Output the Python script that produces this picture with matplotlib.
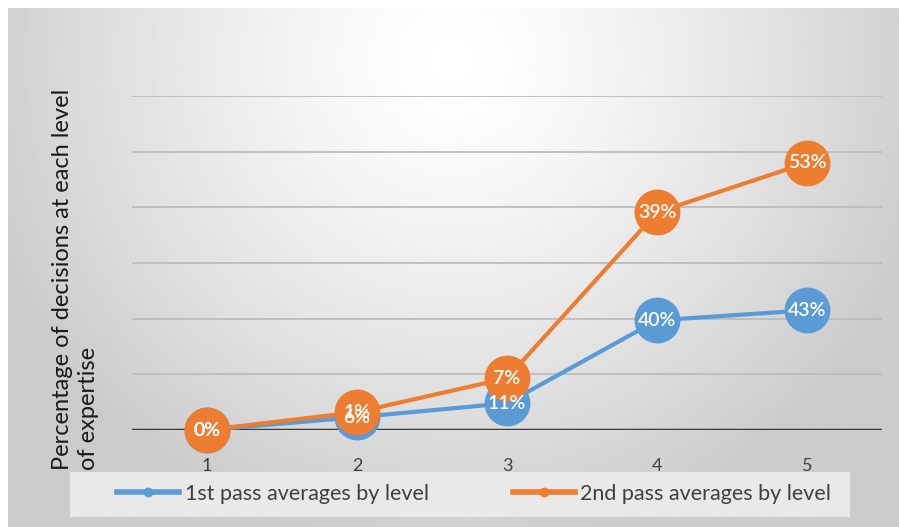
import numpy as np
import matplotlib
matplotlib.use("Agg")
import matplotlib.pyplot as plt
from matplotlib.patches import Rectangle
from matplotlib.lines import Line2D

plt.rcParams['font.family'] = ['Lato', 'DejaVu Sans']

# data
levels = [1, 2, 3, 4, 5]
first_pass = [0, 2.3, 4.8, 19.7, 21.5]
second_pass = [0, 3.2, 9.3, 39.1, 48.0]
first_labels = ["0%", "6%", "11%", "40%", "43%"]
second_labels = ["0%", "1%", "7%", "39%", "53%"]
series_names = ["1st pass averages by level", "2nd pass averages by level"]

blue = "#5B9BD5"
orange = "#ED7D31"

W, H = 899, 527
fig = plt.figure(figsize=(W / 100, H / 100), dpi=100, facecolor="white")

# gray radial background of the chart area
bg = fig.add_axes([8 / W, 0, 1 - 8 / W, 1 - 8 / H], zorder=0)
yy, xx = np.mgrid[0:1:300j, 0:1:500j]
r = np.sqrt(((xx - 0.5) / 0.55) ** 2 + ((yy - 0.1) / 0.95) ** 2)
shade = np.clip(1.0 - 0.2 * r ** 1.3, 0.8, 1.0)
bg.imshow(shade, cmap="gray", vmin=0, vmax=1, aspect="auto", extent=[0, 1, 1, 0])
bg.set_axis_off()

# legend background strip
fig.patches.append(Rectangle((70 / W, 1 - 517 / H), 780 / W, 45 / H,
                             transform=fig.transFigure, facecolor="#e9e9e9",
                             edgecolor="none", zorder=1))

ax = fig.add_axes([132 / W, 1 - 430 / H, 750 / W, 334 / H], zorder=2)
ax.patch.set_alpha(0)
ax.set_xlim(0.5, 5.5)
ax.set_ylim(0, 60)
ax.set_yticks([0, 10, 20, 30, 40, 50, 60])
ax.grid(axis="y", color="#bcbcbc", linewidth=1.3)
ax.set_axisbelow(True)
ax.tick_params(axis="y", left=False, labelleft=False)
ax.tick_params(axis="x", bottom=False, pad=17, labelsize=13, labelcolor="#404040")
ax.set_xticks(levels)
for s in ax.spines.values():
    s.set_visible(False)
ax.axhline(0, color="#3a3a3a", linewidth=2.5, zorder=1.5)

ax.plot(levels, first_pass, color=blue, linewidth=3, marker="o", markersize=32,
        markeredgecolor=blue, label=series_names[0], clip_on=False, zorder=3)
ax.plot(levels, second_pass, color=orange, linewidth=3, marker="o", markersize=32,
        markeredgecolor=orange, label=series_names[1], clip_on=False, zorder=4)

for x, y, t in zip(levels, first_pass, first_labels):
    ax.text(x, y, t, color="white", fontsize=14, fontweight=600,
            ha="center", va="center", zorder=5)
for x, y, t in zip(levels, second_pass, second_labels):
    ax.text(x, y, t, color="white", fontsize=14, fontweight=600,
            ha="center", va="center", zorder=6)

ax.text(52 / W, 1 - 279 / H, "Percentage of decisions at each level\nof expertise",
        transform=fig.transFigure, rotation=90, fontsize=17, color="#1a1a1a",
        ha="left", va="center", multialignment="left", linespacing=1.3)

handles = [Line2D([], [], color=blue, linewidth=4, marker="o", markersize=6),
           Line2D([], [], color=orange, linewidth=4, marker="o", markersize=6)]
fig.legend(handles, series_names, loc="center", bbox_to_anchor=(474 / W, 1 - 494 / H),
           ncol=2, frameon=False, fontsize=15.5, handlelength=2.9, handletextpad=0.25,
           columnspacing=3.9, labelcolor="#404040")

fig.savefig("out.png", dpi=100, facecolor="white")
